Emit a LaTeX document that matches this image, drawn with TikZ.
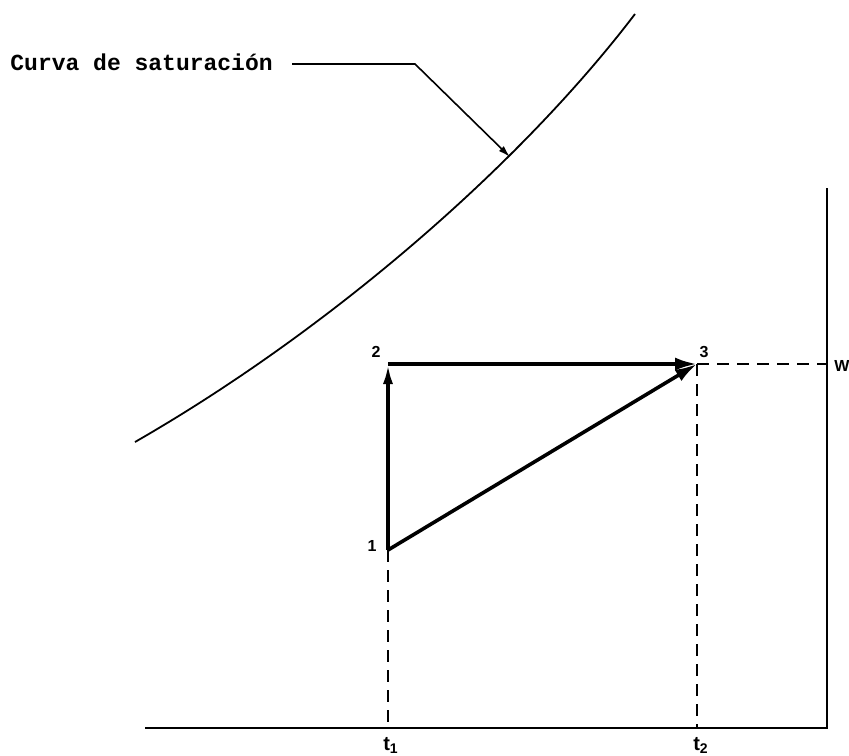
\documentclass[tikz,border=0pt]{standalone}
\usepackage{fontspec}
\setmonofont{Liberation Mono}
\setsansfont{Liberation Sans}
\usetikzlibrary{arrows.meta}

\begin{document}
\begin{tikzpicture}[
  x=0.5pt, y=-0.5pt,
  axis/.style={draw, line width=1pt},
  vec/.style={draw, line width=1.8pt, -{Latex[length=11pt,width=6.5pt]}},
  guide/.style={draw, line width=1pt, dash pattern=on 6pt off 4pt},
  leader/.style={draw, line width=0.8pt, -{Latex[length=6pt,width=3.5pt]}},
  ptlabel/.style={font=\sffamily\bfseries\fontsize{8}{9}\selectfont, inner sep=1pt},
  tlabel/.style={font=\sffamily\bfseries\fontsize{10}{11}\selectfont, inner sep=1pt}
]
\useasboundingbox (0,0) rectangle (849,755);

% states of the process
\coordinate (p1) at (388,550);
\coordinate (p2) at (388,364);
\coordinate (p3) at (697,364);
\coordinate (orig) at (145,728);
\coordinate (corner) at (827,728);
\coordinate (top) at (827,188);

% saturation curve
\draw[line width=0.9pt] (135,442) .. controls (330,330) and (520,165) .. (635,14);
\coordinate (sat) at (510,157);

% label with leader
\node[font=\ttfamily\bfseries\fontsize{11.5}{12}\selectfont, anchor=base west, inner sep=0pt] (curve) at (10,70) {Curva de saturación};
\coordinate (lead) at (292,64);
\coordinate (elbow) at (415,64);
\draw[leader] (lead) -- (elbow) -- (sat);

% axes
\draw[axis] (orig) -- (corner) -- (top);

% guide lines
\draw[guide] (p1) -- (p1 |- orig);
\draw[guide] (p3) -- (p3 |- orig);
\draw[guide] (p3) -- (p3 -| corner);

% vectors
\draw[vec, -{Latex[length=10pt,width=5pt]}] (p1) -- (p2);
\draw[vec] (p2) -- (p3);
\draw[vec] (p1) -- (p3);

% labels
\node[ptlabel] (l1) at (372,546) {1};
\node[ptlabel] (l2) at (376,352) {2};
\node[ptlabel] (l3) at (704,352) {3};
\node[ptlabel] (lw) at (842,366) {W};
\node[tlabel] (t1) at (391,745) {t\textsubscript{1}};
\node[tlabel] (t2) at (701,745) {t\textsubscript{2}};
\end{tikzpicture}
\end{document}
